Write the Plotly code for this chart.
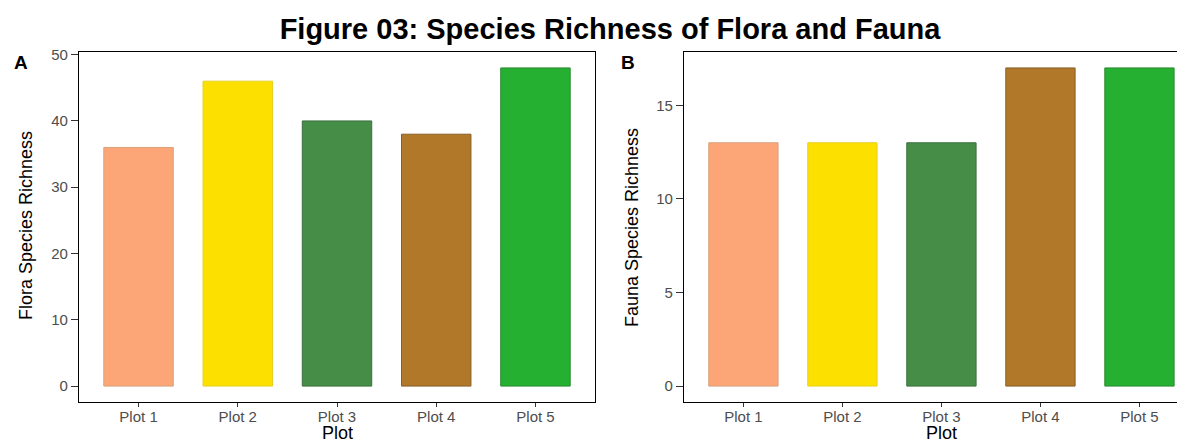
import plotly.graph_objects as go

categories = ["Plot 1", "Plot 2", "Plot 3", "Plot 4", "Plot 5"]
flora_richness = [36, 46, 40, 38, 48]
fauna_richness = [13, 13, 13, 17, 17]
bar_colors = ["#FCA678", "#FBE000", "#468E48", "#B07828", "#25B032"]
bar_edges = ["#D8A07C", "#E8D020", "#3A6E3C", "#86602A", "#2A8A30"]
flora_ticks = [0, 10, 20, 30, 40, 50]
fauna_ticks = [0, 5, 10, 15]

# page has an 8px body margin, so the figure is slightly smaller and shifted
OFF = 8
W, H = 1185 - OFF, 443 - OFF
FONT = "Liberation Sans, Arial, sans-serif"
TICKC = "#4D4D4D"


def px(x):
    return (x - OFF) / W


def py(y):
    return 1 - (y - OFF) / H


fig = go.Figure()
fig.add_trace(go.Bar(x=categories, y=flora_richness, width=0.7,
                     marker=dict(color=bar_colors, line=dict(color=bar_edges, width=1)),
                     xaxis="x", yaxis="y", showlegend=False))
fig.add_trace(go.Bar(x=categories, y=fauna_richness, width=0.7,
                     marker=dict(color=bar_colors, line=dict(color=bar_edges, width=1)),
                     xaxis="x2", yaxis="y2", showlegend=False))

ydom = [py(402), py(52)]
common_x = dict(type="category", showline=True, linecolor="black", linewidth=1,
                ticks="outside", ticklen=4, tickcolor="#333333", tickwidth=1,
                ticklabelstandoff=-3,
                tickfont=dict(family=FONT, size=15, color=TICKC),
                showgrid=False, zeroline=False, automargin=False, fixedrange=True)
common_y = dict(showline=True, linecolor="black", linewidth=1.3,
                ticks="outside", ticklen=7, tickcolor="#333333", tickwidth=1,
                tickfont=dict(family=FONT, size=15, color=TICKC),
                showgrid=False, zeroline=False, automargin=False, fixedrange=True)

fig.update_layout(
    width=W, height=H,
    margin=dict(l=0, r=0, t=0, b=0),
    paper_bgcolor="white", plot_bgcolor="white",
    bargap=0.3,
    xaxis=dict(domain=[px(79), px(595)], range=[-0.6, 4.6], mirror=True, anchor="y", **common_x),
    yaxis=dict(domain=ydom, range=[-2.4, 50.4], tickvals=flora_ticks, mirror=True, anchor="x", **common_y),
    xaxis2=dict(domain=[px(684), 1.0], range=[-0.6, 4.46], mirror=True, anchor="y2", **common_x),
    yaxis2=dict(domain=ydom, range=[-0.85, 17.85], tickvals=fauna_ticks, mirror=False, anchor="x2", **common_y),
    title=dict(text="<b>Figure 03: Species Richness of Flora and Fauna</b>",
               x=px(610), xanchor="center", xref="paper",
               y=py(29), yanchor="middle", yref="container",
               font=dict(family=FONT, size=29, color="black")),
)

ann = []
ann.append(dict(text="<b>A</b>", x=px(21), y=py(63), xref="paper", yref="paper",
                xanchor="center", yanchor="middle", showarrow=False,
                font=dict(family=FONT, size=19, color="black")))
ann.append(dict(text="<b>B</b>", x=px(628), y=py(63), xref="paper", yref="paper",
                xanchor="center", yanchor="middle", showarrow=False,
                font=dict(family=FONT, size=19, color="black")))
ann.append(dict(text="Flora Species Richness", x=px(26), y=py(226), xref="paper", yref="paper",
                xanchor="center", yanchor="middle", textangle=-90, showarrow=False,
                font=dict(family=FONT, size=18, color="black")))
ann.append(dict(text="Fauna Species Richness", x=px(632), y=py(228), xref="paper", yref="paper",
                xanchor="center", yanchor="middle", textangle=-90, showarrow=False,
                font=dict(family=FONT, size=18, color="black")))
ann.append(dict(text="Plot", x=px(337), y=py(433), xref="paper", yref="paper",
                xanchor="center", yanchor="middle", showarrow=False,
                font=dict(family=FONT, size=18, color="black")))
ann.append(dict(text="Plot", x=px(941), y=py(433), xref="paper", yref="paper",
                xanchor="center", yanchor="middle", showarrow=False,
                font=dict(family=FONT, size=18, color="black")))
fig.update_layout(annotations=ann)

fig.write_html("out.html")
